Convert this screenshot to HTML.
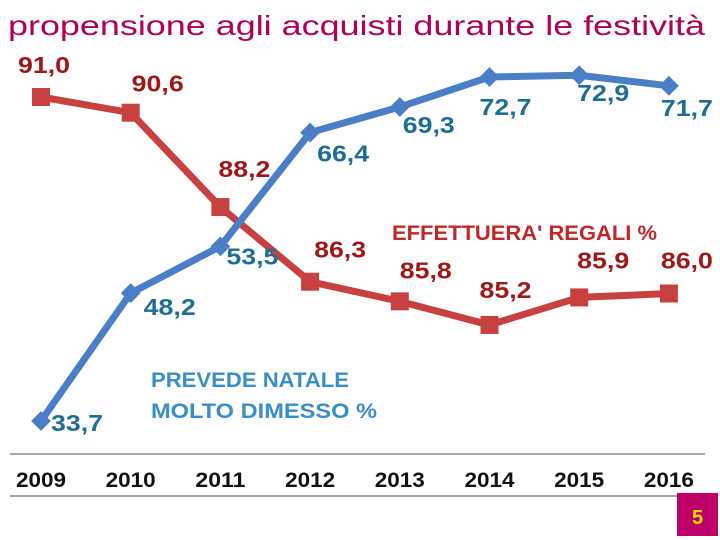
<!DOCTYPE html>
<html><head><meta charset="utf-8"><style>
body{margin:0;background:#fff;}
svg{display:block;font-family:"Liberation Sans",sans-serif;}
</style></head><body>
<svg id="chart" width="720" height="540">
<text x="8" y="35" font-size="28" fill="#b0005a" textLength="697" lengthAdjust="spacingAndGlyphs">propensione agli acquisti durante le festività</text>
<line x1="10" y1="454" x2="705" y2="454" stroke="#888" stroke-width="1.5"/>
<line x1="10" y1="496" x2="705" y2="496" stroke="#888" stroke-width="1.5"/>
<text x="392" y="240" font-size="21" font-weight="bold" fill="#c0282a" textLength="265" lengthAdjust="spacingAndGlyphs">EFFETTUERA' REGALI %</text>
<text x="151" y="387" font-size="21" font-weight="bold" fill="#3a8fc8" textLength="198" lengthAdjust="spacingAndGlyphs">PREVEDE NATALE</text>
<text x="151" y="418" font-size="21" font-weight="bold" fill="#3a8fc8" textLength="226" lengthAdjust="spacingAndGlyphs">MOLTO DIMESSO %</text>
<rect x="677" y="493" width="41" height="43" fill="#c0006a"/>
<text x="697.5" y="524" font-size="20" font-weight="bold" fill="#ffe000" text-anchor="middle">5</text>
<g id="marks"></g>
</svg>
<script>
const years=["2009","2010","2011","2012","2013","2014","2015","2016"];
const regali=[91.0,90.6,88.2,86.3,85.8,85.2,85.9,86.0];
const dimesso=[33.7,48.2,53.5,66.4,69.3,72.7,72.9,71.7];
const NS="http://www.w3.org/2000/svg";
const g=document.getElementById('marks');
const xS=i=>41+i*89.7;
const yR=v=>97+(91-v)*39.3;
const yB=v=>77+(72.7-v)*8.82;
const fmt=v=>v.toFixed(1).replace('.',',');
const redOff=[[3,-24],[27,-21],[24,-30],[30,-24],[26,-23],[16,-27],[24,-29],[18,-25]];
const blueOff=[[36,10],[39,22],[32,18],[33,29],[29,26],[16,38],[24,26],[18,30]];
function mk(t,a){const e=document.createElementNS(NS,t);for(const k in a)e.setAttribute(k,a[k]);g.appendChild(e);return e;}
function series(vals,yf,col,name,lc,offs,square){
  const p=mk('polyline',{points:vals.map((v,i)=>xS(i)+','+yf(v)).join(' '),fill:'none',stroke:col,'stroke-width':7,'stroke-linejoin':'round'});
  
  
  vals.forEach((v,i)=>{
    let m;
    if(square){m=mk('rect',{x:xS(i)-9,y:yf(v)-9,width:18,height:18,fill:col});}
    else{m=mk('rect',{x:xS(i)-7,y:yf(v)-7,width:14,height:14,fill:col,transform:'rotate(45 '+xS(i)+' '+yf(v)+')'});}
    
    
    const t=mk('text',{x:xS(i)+offs[i][0]-26,y:yf(v)+offs[i][1],'font-size':23,'font-weight':'bold',fill:lc,textLength:52,lengthAdjust:'spacingAndGlyphs'});
    t.textContent=fmt(v);
    
    
  });
}
series(regali,yR,'#c94040','regali','#a01818',redOff,true);
series(dimesso,yB,'#4a7fc8','dimesso','#1e6f96',blueOff,false);
years.forEach((y,i)=>{
  const t=mk('text',{x:xS(i),y:487,'font-size':21,'font-weight':'bold',fill:'#111','text-anchor':'middle',textLength:50,lengthAdjust:'spacingAndGlyphs'});
  t.textContent=y;
  
  
});
</script>
</body></html>
